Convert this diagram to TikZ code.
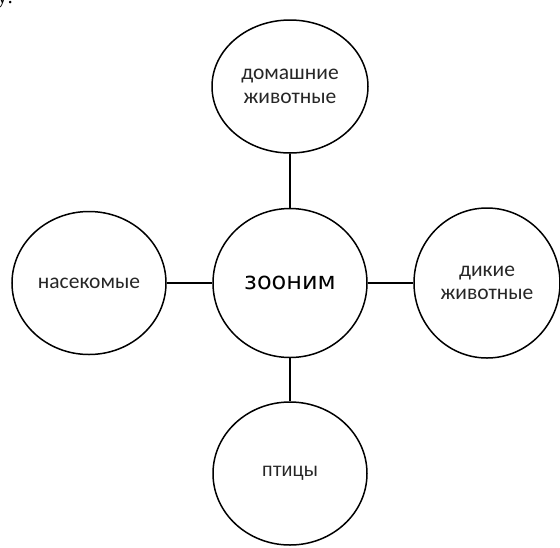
\documentclass[tikz,border=0pt]{standalone}
\usepackage{fontspec}
\setmainfont{Carlito}
\newfontfamily\centrefont{DejaVu Sans}
\newfontfamily\birdfont{Liberation Sans}
\newfontfamily\headfont{Liberation Serif}
\usetikzlibrary{shapes.geometric}
\begin{document}
\begin{tikzpicture}[x=1pt,y=-1pt,
  bubble/.style={ellipse,draw=black,line width=1.5pt,inner sep=0pt,align=center,
    font=\fontsize{21.5}{23.5}\selectfont,text=black!85},
  link/.style={draw=black,line width=1.5pt}]
  \useasboundingbox (0,0) rectangle (560,547);
  % preceding line of text, cut by the top edge
  \node[anchor=base west,inner sep=0pt,font=\headfont\fontsize{21}{24}\selectfont] (lead) at (-3,3) {у:};
  % theme in the middle and its four groups
  \node[bubble,minimum width=154pt,minimum height=149pt,font=\centrefont\fontsize{24}{26}\selectfont,text=black] (C) at (290,283) {зооним};
  \node[bubble,minimum width=156pt,minimum height=133pt] (T) at (290,86.5) {домашние\\животные};
  \node[bubble,minimum width=154pt,minimum height=143pt] (L) at (89,283) {насекомые};
  \node[bubble,minimum width=146pt,minimum height=150pt] (R) at (487,283) {дикие\\животные};
  \node[bubble,minimum width=154pt,minimum height=143pt,font=\birdfont\fontsize{19.5}{22}\selectfont] (B) at (290,473.5) {птицы};
  % connectors
  \draw[link] (T) -- (C);
  \draw[link] (L) -- (C);
  \draw[link] (C) -- (R);
  \draw[link] (C) -- (B);
\end{tikzpicture}
\end{document}
